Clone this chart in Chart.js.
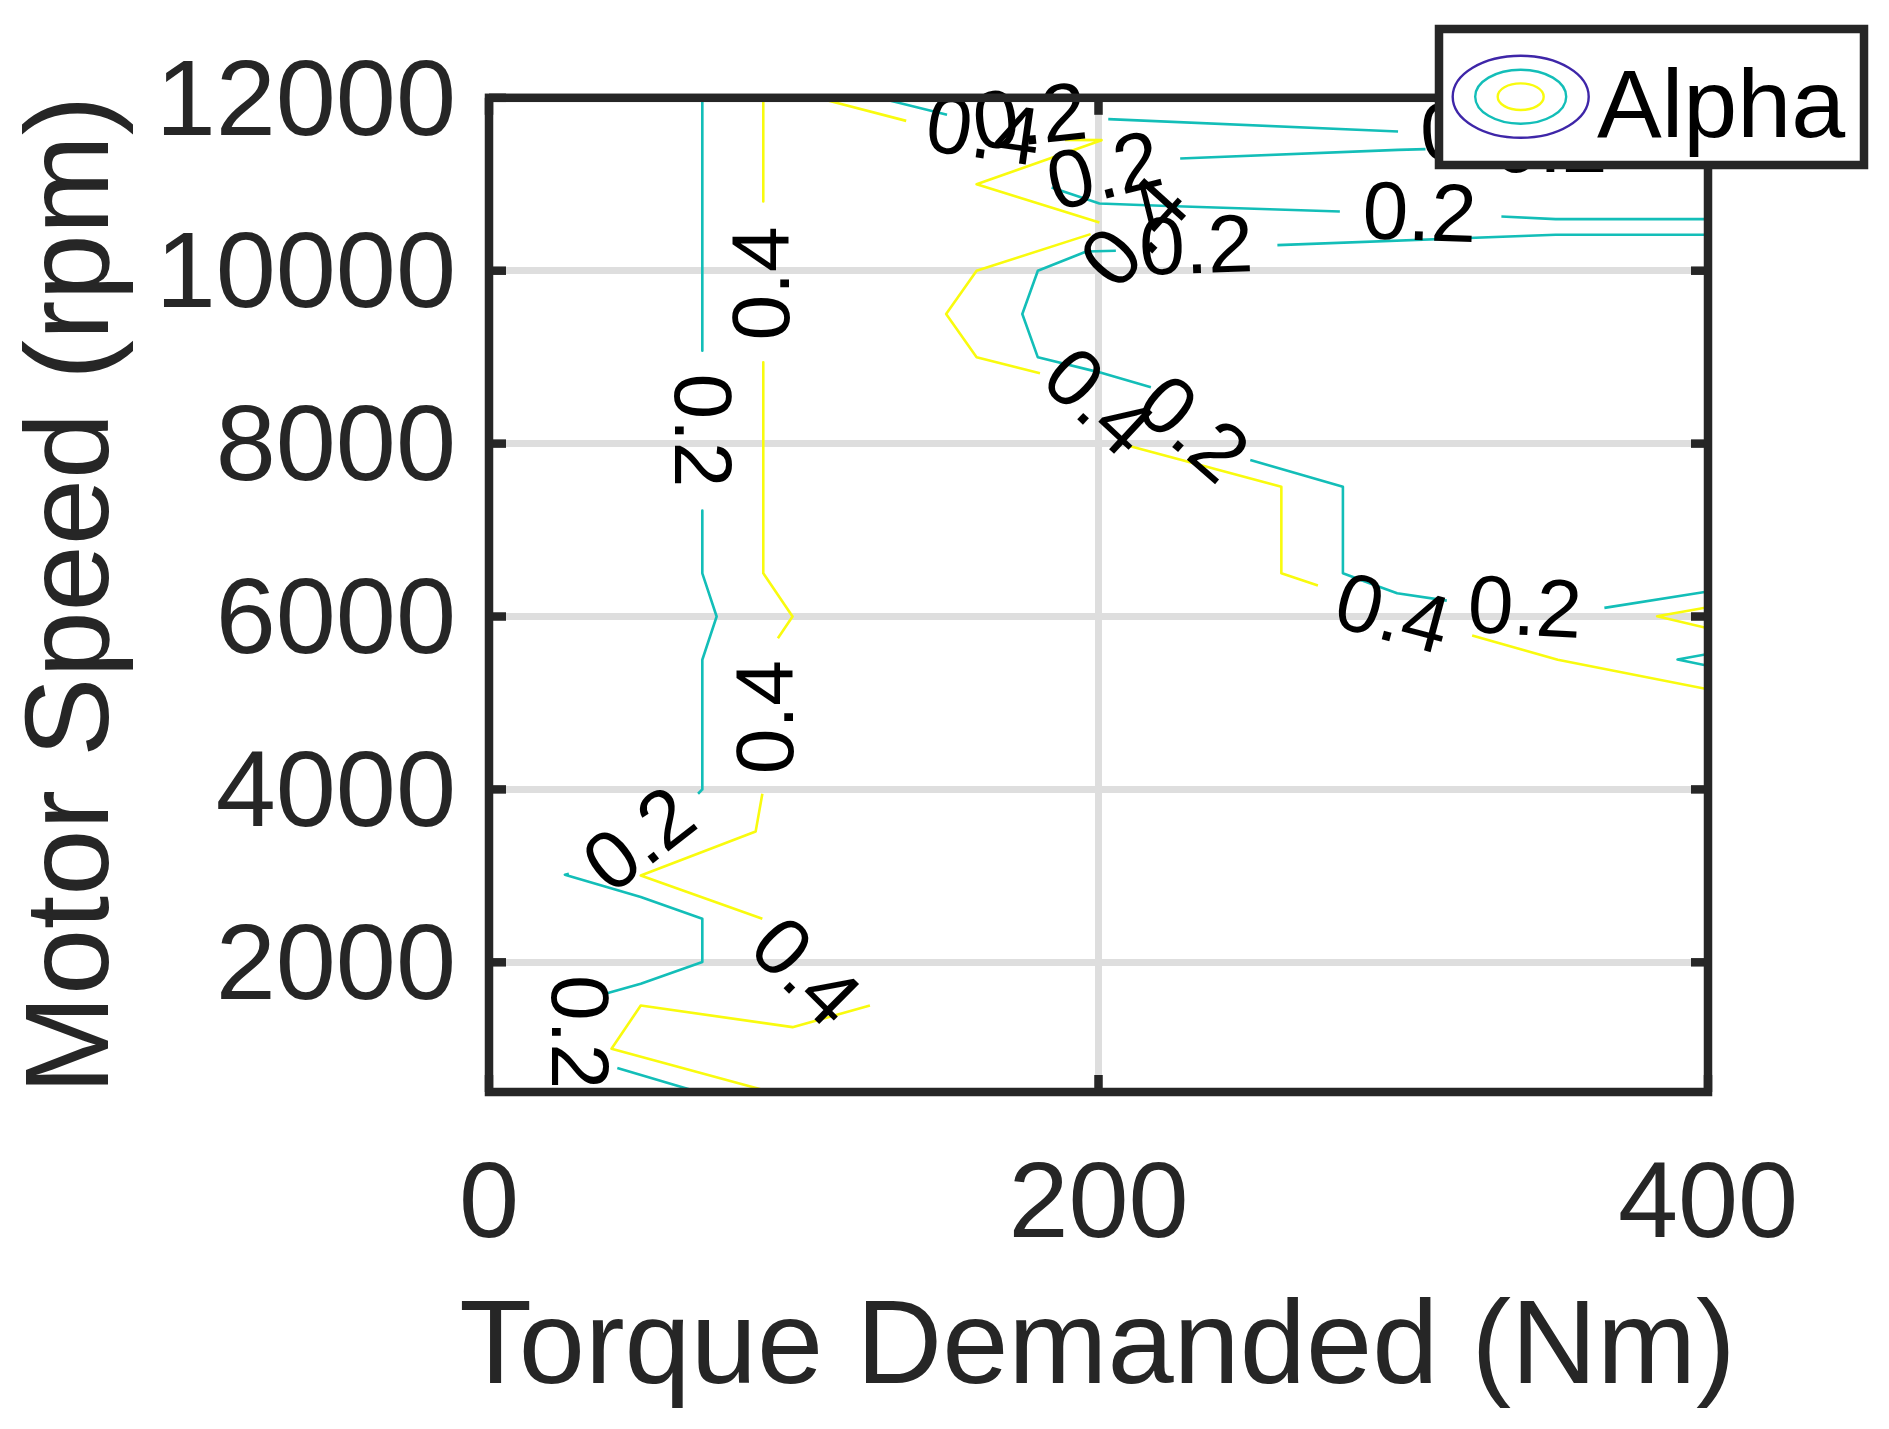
<!DOCTYPE html>
<html><head><meta charset="utf-8">
<script src="https://cdn.jsdelivr.net/npm/chart.js@4.4.1/dist/chart.umd.min.js"></script>
<style>html,body{margin:0;padding:0;background:#fff;}canvas{display:block;}</style>
</head><body>
<canvas id="c" width="1889" height="1429"></canvas>
<script>
// ---------- data ----------
const xTitle = 'Torque Demanded (Nm)';
const yTitle = 'Motor Speed (rpm)';
const legendLabel = 'Alpha';
const xRange = [0, 400];
const yRange = [500, 12000];
const xTicks = [0, 200, 400];
const yTicks = [2000, 4000, 6000, 8000, 10000, 12000];
const xTickLabels = ['0', '200', '400'];
const yTickLabels = ['2000', '4000', '6000', '8000', '10000', '12000'];

// contour level 0.2 (pieces, null = break for an inline label)
const cyanLeft = [[70,12000],[70,9075],null,[70,7225],[70,6500],[74.7,6000],[70,5500],[70,4000],[68.6,3950],null,
  [26.2,3024],[24.9,3013],[49.8,2755],[70,2504],[70,2003],[49.8,1753],[39,1645],null,[42.1,778],[65.1,539],[69,500]];
const cyanTop = [[127.8,12000],[150.3,11804],null,[203.2,11753],[298.3,11610],null,[352,11560],[400,11550]];
const cyanUpper = [[400,11395],[372,11400],null,[307.3,11406],[298.3,11398],[226.8,11298],null,
  [184.6,10963],[200.3,10778],[220.4,10751],[279.2,10685],null,[332.2,10627],[350,10597],[400,10597]];
const cyanMiddle = [[400,10416],[350,10416],[258.7,10296],null,[205.7,10231],[196,10223],[180.1,10000],[175,9499],
  [180.1,8998],[200.3,8824],[217.2,8651],null,[249.8,7811],[280.2,7500],[280.2,6500],[289.4,6378],[298,6270],
  [314.3,6184],null,[366,6100],[400,6290]];
const cyanEdge = [[400,5567],[390,5502],[400,5431]];

// contour level 0.4
const yellowLeft = [[90,12000],[90,10801],null,[90,8940],[90,6500],[99.6,6000],[94.8,5748],null,
  [89.7,3949],[87.5,3514],[49.8,3005],[89.7,2504],null,[125,1500],[99.6,1250],[49.8,1500],[40.2,1000],
  [84.3,578],[92.4,500]];
const yellowCenter = [[107.7,12000],[136.9,11733],null,[189,11513],[201,11510],[160,11000],[200.3,10558],null,
  [197.4,10423],[160,10000],[150,9500],[160,9000],[180.8,8813],null,[209.5,7977],[260,7500],[260,6500],
  [272,6358],null,[322.6,5779],[350.7,5500],[400,5158]];
const yellowEdge = [[400,6107],[383.3,6003],[400,5864]];

// inline contour labels (anchor in data units)
const labelText  = ['0.4','0.2','0.4','0.2','0.4','0.2','0.4','0.2','0.2','0.4','0.2','0.2','0.4','0.2','0.4','0.2','0.2','0.2'];
const labelX     = [90.9,68.6,92.3,50.2,102.8,28.2,162,177.6,202.2,213,232.1,305.3,199,230,296.1,339.8,324.4,348.3];
const labelY     = [9853,8153,4835,3379,1853,1194,11564,11725,11101,10408,10234,10615,8442,8130,5980,6049,11564,11402];
const labelAngle = [-90,90,-90,-38,45,90,8,-6,-14,-48,-2,2,43,41,15,3,-3,0];

// ---------- styling ----------
const FONT = "'Liberation Sans', Arial, Helvetica, sans-serif";
const AXIS = '#262626';
const C02 = '#13BEB8';
const C04 = '#F9FB0E';
const C00 = '#3E26A8';

const toPts = arr => arr.map(p => p === null ? {x: NaN, y: NaN} : {x: p[0], y: p[1]});
const mk = (arr, color) => ({
  label: legendLabel, data: toPts(arr), borderColor: color, backgroundColor: color,
  borderWidth: 2.6, pointRadius: 0, showLine: true, tension: 0, spanGaps: false, borderJoinStyle: 'round'
});

const overlay = {
  id: 'overlay',
  afterDatasetsDraw(chart) {
    const {ctx, scales: {x, y}} = chart;
    ctx.save();
    ctx.fillStyle = '#000';
    ctx.font = `82px ${FONT}`;
    ctx.textAlign = 'center';
    ctx.textBaseline = 'middle';
    labelText.forEach((t, i) => {
      const px = x.getPixelForValue(labelX[i]), py = y.getPixelForValue(labelY[i]);
      ctx.save(); ctx.translate(px, py); ctx.rotate(labelAngle[i] * Math.PI / 180);
      ctx.fillText(t, 0, 0); ctx.restore();
    });
    ctx.restore();
  },
  afterDraw(chart) {
    const {ctx, chartArea: a, scales: {x, y}} = chart;
    const seg = (x1, y1, x2, y2) => { ctx.beginPath(); ctx.moveTo(x1, y1); ctx.lineTo(x2, y2); ctx.stroke(); };
    ctx.save();
    // x axis title (drawn without width compression)
    ctx.fillStyle = AXIS;
    ctx.font = `119px ${FONT}`;
    ctx.textAlign = 'center'; ctx.textBaseline = 'alphabetic';
    ctx.fillText(xTitle, (a.left + a.right) / 2 - 1, 1383);
    // box and inward ticks
    ctx.strokeStyle = AXIS; ctx.lineWidth = 8.5; ctx.lineCap = 'butt';
    yTicks.forEach(v => { const p = y.getPixelForValue(v); seg(a.left, p, a.left + 17, p); seg(a.right, p, a.right - 17, p); });
    xTicks.forEach(v => { const p = x.getPixelForValue(v); seg(p, a.bottom, p, a.bottom - 17); seg(p, a.top, p, a.top + 17); });
    ctx.lineJoin = 'miter';
    ctx.strokeRect(a.left, a.top, a.right - a.left, a.bottom - a.top);
    // legend box
    const L = {x: 1439, y: 29, w: 425, h: 136};
    ctx.fillStyle = '#fff';
    ctx.fillRect(L.x, L.y, L.w, L.h);
    ctx.lineWidth = 8.5; ctx.strokeStyle = AXIS;
    ctx.strokeRect(L.x, L.y, L.w, L.h);
    const cx = 1520.7, cy = 96.7;
    [[68, 41, C00], [45.5, 27, C02], [23, 13.3, C04]].forEach(([rx, ry, c]) => {
      ctx.beginPath(); ctx.ellipse(cx, cy, rx, ry, 0, 0, Math.PI * 2);
      ctx.strokeStyle = c; ctx.lineWidth = 2.4; ctx.stroke();
    });
    ctx.fillStyle = '#000';
    ctx.font = `97px ${FONT}`;
    ctx.textAlign = 'left'; ctx.textBaseline = 'alphabetic';
    ctx.fillText(legendLabel, 1597, 136.7);
    ctx.restore();
  }
};

new Chart(document.getElementById('c'), {
  type: 'scatter',
  data: {
    datasets: [
      mk(cyanLeft, C02), mk(cyanTop, C02), mk(cyanUpper, C02), mk(cyanMiddle, C02), mk(cyanEdge, C02),
      mk(yellowLeft, C04), mk(yellowCenter, C04), mk(yellowEdge, C04)
    ]
  },
  options: {
    responsive: false, animation: false, devicePixelRatio: 1,
    layout: {padding: {top: 97, right: 181, bottom: 0, left: 0}},
    plugins: {legend: {display: false}, tooltip: {enabled: false}},
    scales: {
      x: {
        type: 'linear', min: xRange[0], max: xRange[1],
        afterBuildTicks: s => { s.ticks = xTicks.map(v => ({value: v})); },
        afterFit: s => { s.height = 337; },
        ticks: {
          autoSkip: false, maxRotation: 0, padding: 50, color: AXIS,
          font: {family: FONT, size: 108},
          callback: v => xTickLabels[xTicks.indexOf(v)]
        },
        grid: {color: '#dedede', lineWidth: 7, drawTicks: false},
        border: {display: false},
        title: {display: false, text: xTitle}
      },
      y: {
        type: 'linear', min: yRange[0], max: yRange[1],
        afterBuildTicks: s => { s.ticks = yTicks.map(v => ({value: v})); },
        afterFit: s => { s.width = 489; },
        ticks: {
          autoSkip: false, padding: 33, color: AXIS, labelOffset: 7,
          font: {family: FONT, size: 108},
          callback: v => yTickLabels[yTicks.indexOf(v)]
        },
        grid: {color: '#dedede', lineWidth: 7, drawTicks: false},
        border: {display: false},
        title: {display: true, text: yTitle, color: AXIS, font: {family: FONT, size: 119}, padding: {top: 4, bottom: 0}}
      }
    }
  },
  plugins: [overlay]
});
</script>
</body></html>
